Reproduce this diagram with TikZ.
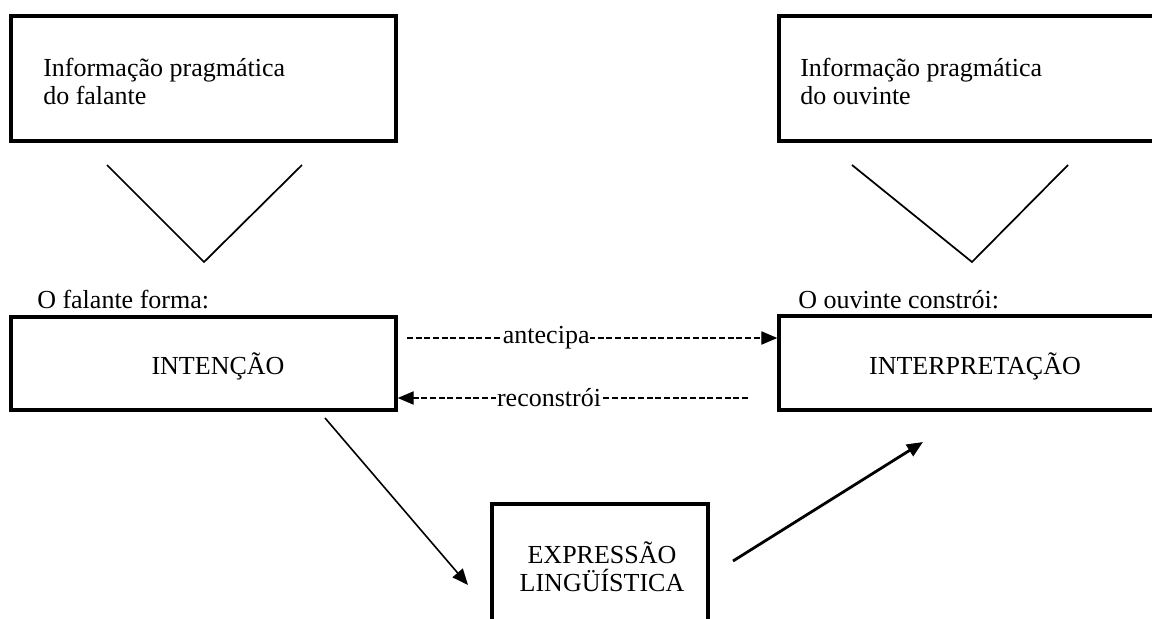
\documentclass[tikz,border=0pt]{standalone}
\usepackage{fontspec}
\setmainfont{Liberation Serif}
\usetikzlibrary{arrows.meta}
\usetikzlibrary{fit}

\begin{document}
\begin{tikzpicture}[x=0.75pt, y=-0.75pt,
		box/.style={draw=black, line width=2.6pt, inner sep=0pt},
		txt/.style={inner sep=0pt, font=\fontsize{19.5}{21}\selectfont, align=left},
		lbl/.style={fill=white, inner sep=0.5pt, font=\fontsize{19.5}{21}\selectfont},
		funnel/.style={line width=1.3pt},
		dasharrow/.style={line width=0.9pt, dash pattern=on 4.5pt off 2pt, -{Triangle[length=12pt, width=10pt]}},
		thinarrow/.style={line width=1.2pt, -{Triangle[length=12pt, width=10pt]}},
		thickarrow/.style={line width=2.1pt, -{Triangle[length=12pt, width=10pt]}}]
		\fill[white] (0,0) rectangle (1152,618);
		\useasboundingbox (0,0) rectangle (1152,618);
		\clip (0,0) rectangle (1152,618);
		
		% pragmatic information
		\node[box, fit={(11,16) (396,141)}] (infoF) {};
		\node[txt, anchor=north west] (infoFtext) at (43,57.5) {Informação pragmática\\do falante};
		\node[box, fit={(779,16) (1200,141)}] (infoO) {};
		\node[txt, anchor=north west] (infoOtext) at (800,57.5) {Informação pragmática\\do ouvinte};
		
		\draw[funnel] (107,165) -- (204,262) -- (302,165);
		\draw[funnel] (852,165) -- (972,262) -- (1068,165);
		
		% speaker and hearer
		\node[txt, anchor=base west] (formaF) at (37,308) {O falante forma:};
		\node[box, fit={(11,317) (396,410)}] (intencao) {};
		\node[txt, anchor=base] (intencaoText) at (218,374) {INTENÇÃO};
		
		\node[txt, anchor=base west] (constroiO) at (798,308) {O ouvinte constrói:};
		\node[box, fit={(779,316) (1200,410)}] (interp) {};
		\node[txt, anchor=base] (interpText) at (975,374) {INTERPRETAÇÃO};
		
		\coordinate (antA) at (407,338);
		\coordinate (recA) at (748,398);
		\draw[dasharrow] (antA) -- node[lbl, pos=0.376] (antecipa) {antecipa} (interp.west |- antA);
		\draw[dasharrow] (recA) -- node[lbl, pos=0.568] (reconstroi) {reconstrói} (intencao.east |- recA);
		
		% linguistic expression
		\node[box, fit={(492,504) (708,700)}] (expr) {};
		\node[txt, align=center, anchor=north] (exprText) at (602,541) {EXPRESSÃO\\LINGÜÍSTICA};
		
		\coordinate (exA) at (325,418);
		\coordinate (exB) at (468,585);
		\draw[thinarrow] (exA) -- (exB);
		\coordinate (inA) at (733,561);
		\coordinate (inB) at (923,442);
		\draw[thickarrow] (inA) -- (inB);
	\end{tikzpicture}
\end{document}
